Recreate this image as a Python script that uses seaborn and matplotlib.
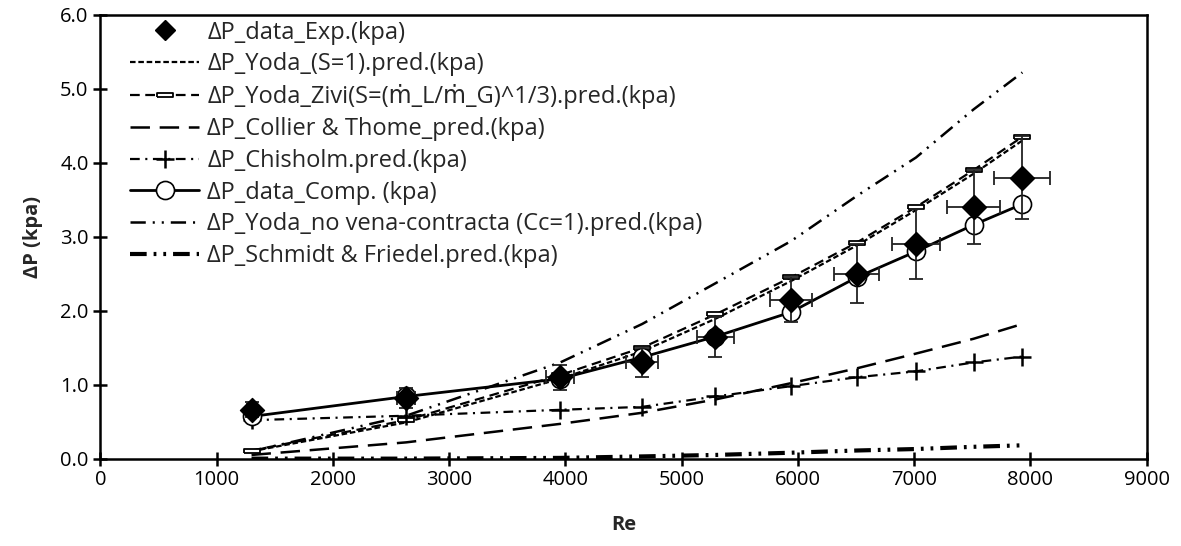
import matplotlib
matplotlib.use("Agg")
import matplotlib.pyplot as plt
import pandas as pd
import seaborn as sns

# Reynolds numbers of the test points
re_vals = [1300, 2630, 3955, 4660, 5290, 5940, 6505, 7015, 7510, 7930]

dp_exp = [0.66, 0.82, 1.10, 1.30, 1.65, 2.15, 2.50, 2.90, 3.40, 3.80]
dp_exp_yerr = [0.10, 0.13, 0.17, 0.20, 0.27, 0.30, 0.40, 0.47, 0.50, 0.56]
dp_exp_xerr = [40, 80, 120, 140, 160, 180, 195, 210, 225, 240]
dp_comp = [0.57, 0.84, 1.08, 1.37, 1.65, 1.98, 2.45, 2.80, 3.16, 3.44]
dp_yoda_s1 = [0.10, 0.49, 1.08, 1.45, 1.89, 2.40, 2.88, 3.36, 3.85, 4.30]
dp_yoda_zivi = [0.11, 0.52, 1.13, 1.50, 1.95, 2.45, 2.92, 3.40, 3.90, 4.35]
dp_collier = [0.05, 0.22, 0.47, 0.62, 0.80, 1.02, 1.22, 1.42, 1.62, 1.82]
dp_chisholm = [0.52, 0.58, 0.66, 0.70, 0.84, 0.98, 1.10, 1.18, 1.30, 1.38]
dp_yoda_novena = [0.10, 0.58, 1.30, 1.82, 2.37, 2.94, 3.55, 4.07, 4.72, 5.22]
dp_schmidt = [0.00, 0.00, 0.01, 0.03, 0.05, 0.08, 0.11, 0.13, 0.16, 0.18]

labels = {
    "exp": "ΔP_data_Exp.(kpa)",
    "s1": "ΔP_Yoda_(S=1).pred.(kpa)",
    "zivi": "ΔP_Yoda_Zivi(S=(ṁ_L/ṁ_G)^1/3).pred.(kpa)",
    "collier": "ΔP_Collier & Thome_pred.(kpa)",
    "chisholm": "ΔP_Chisholm.pred.(kpa)",
    "comp": "ΔP_data_Comp. (kpa)",
    "novena": "ΔP_Yoda_no vena-contracta (Cc=1).pred.(kpa)",
    "schmidt": "ΔP_Schmidt & Friedel.pred.(kpa)",
}

FONT = ["Open Sans", "DejaVu Sans"]
BOX = [(-1, -0.3), (1, -0.3), (1, 0.3), (-1, 0.3), (-1, -0.3)]

STYLES = {
    "exp": dict(ls="none", marker="D", ms=10, color="black"),
    "s1": dict(lw=1.6, ls=(0, (4, 2)), color="black"),
    "zivi": dict(lw=1.6, ls=(0, (7, 4)), color="black", marker=BOX, ms=11,
                 mfc="white", mec="black", mew=1.3),
    "collier": dict(lw=1.8, ls=(0, (14, 7)), color="black"),
    "chisholm": dict(lw=1.6, ls=(0, (7, 4, 1.5, 4)), color="black", marker="+",
                     ms=13, mec="black", mew=1.8),
    "comp": dict(lw=2.0, color="black", marker="o", ms=13, mfc="white",
                 mec="black", mew=1.2),
    "novena": dict(lw=1.8, ls=(0, (11, 5, 1.5, 5, 1.5, 5)), color="black"),
    "schmidt": dict(lw=3.0, ls=(0, (12, 5, 2, 5, 2, 5)), color="black"),
}


def main() -> None:
    sns.set_theme(style="ticks")
    plt.rcParams["font.family"] = FONT
    plt.rcParams["lines.scale_dashes"] = False

    df = pd.DataFrame({
        "Re": re_vals, "exp": dp_exp, "comp": dp_comp, "s1": dp_yoda_s1,
        "zivi": dp_yoda_zivi, "collier": dp_collier, "chisholm": dp_chisholm,
        "novena": dp_yoda_novena, "schmidt": dp_schmidt,
    })

    fig, ax = plt.subplots(figsize=(11.81, 5.46), dpi=100)
    fig.subplots_adjust(left=0.085, right=0.971, top=0.973, bottom=0.16)

    for key in ["novena", "s1", "zivi", "collier", "chisholm", "schmidt", "comp"]:
        sns.lineplot(data=df, x="Re", y=key, ax=ax, legend=False, sort=False,
                     **STYLES[key])

    ax.errorbar(re_vals, dp_exp, yerr=dp_exp_yerr, xerr=dp_exp_xerr, fmt="none",
                ecolor="#222222", elinewidth=1.3, capsize=5, capthick=1.3, zorder=4)
    sns.scatterplot(data=df, x="Re", y="exp", marker="D", s=150, color="black",
                    edgecolor="black", ax=ax, legend=False, zorder=5)

    ax.set_xlim(0, 9000)
    ax.set_ylim(0, 6.0)
    ax.set_xticks(range(0, 9001, 1000))
    ax.set_yticks([0, 1, 2, 3, 4, 5, 6])
    ax.set_yticklabels([f"{v:.1f}" for v in range(7)])
    ax.tick_params(direction="inout", length=10, width=1.8, labelsize=14.5, colors="black")
    for s in ax.spines.values():
        s.set_linewidth(1.8)
        s.set_color("black")
    ax.set_xlabel("Re", fontsize=14.5, fontweight="bold", labelpad=18)
    ax.set_ylabel("ΔP (kpa)", fontsize=14.5, fontweight="bold", labelpad=12)

    order = ["exp", "s1", "zivi", "collier", "chisholm", "comp", "novena", "schmidt"]
    handles = [plt.Line2D([], [], **STYLES[key]) for key in order]
    ax.legend(handles, [labels[key] for key in order], loc="upper left",
              bbox_to_anchor=(0.019, 1.008), frameon=False, fontsize=17,
              handlelength=2.95, handletextpad=0.34, labelspacing=0.33,
              borderaxespad=0.0)

    fig.savefig("out.png", dpi=100)
    plt.close(fig)


if __name__ == "__main__":
    main()
